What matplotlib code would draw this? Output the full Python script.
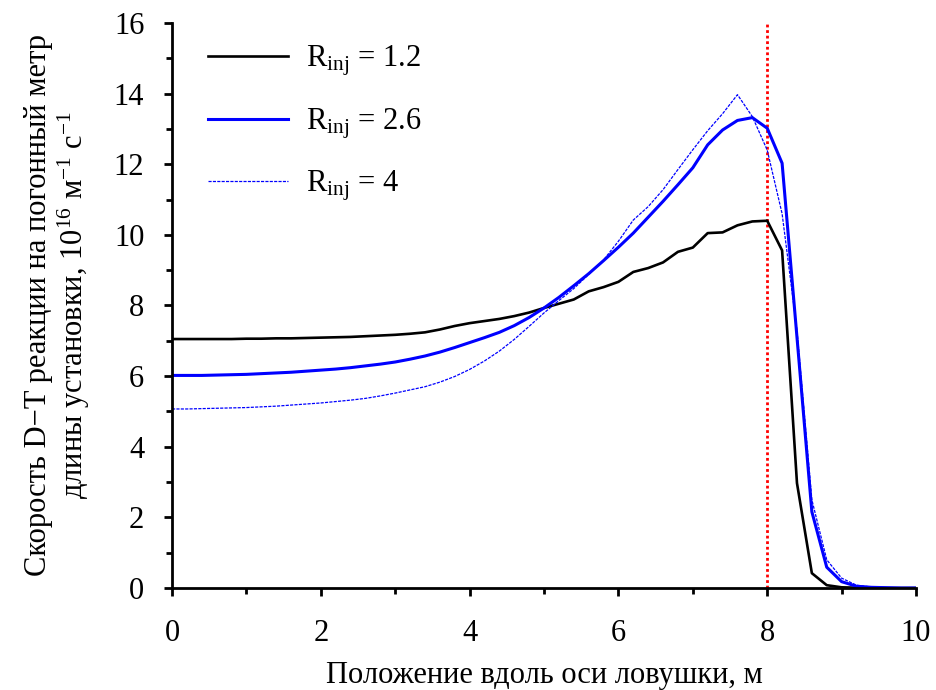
import numpy as np
import matplotlib
matplotlib.use("Agg")
import matplotlib.pyplot as plt
from matplotlib.ticker import MultipleLocator

plt.rcParams['font.family'] = ['Liberation Serif', 'DejaVu Serif']
plt.rcParams['mathtext.fontset'] = 'custom'
plt.rcParams['mathtext.rm'] = 'Liberation Serif'
plt.rcParams['mathtext.it'] = 'Liberation Serif'

# positions along the trap axis, m
x = np.round(np.arange(0, 10.01, 0.2), 1)

# R_inj = 1.2
r12 = [7.05, 7.05, 7.05, 7.05, 7.05, 7.06, 7.06, 7.07, 7.07, 7.08,
       7.09, 7.10, 7.11, 7.13, 7.15, 7.17, 7.20, 7.24, 7.32, 7.42,
       7.50, 7.56, 7.62, 7.70, 7.80, 7.93, 8.05, 8.17, 8.40, 8.52,
       8.67, 8.95, 9.06, 9.22, 9.52, 9.64, 10.05, 10.07, 10.27, 10.38,
       10.40, 9.56, 2.97, 0.42, 0.08, 0.02, 0.01, 0.0, 0.0, 0.0,
       0.0]

# R_inj = 2.6
r26 = [6.02, 6.02, 6.02, 6.03, 6.04, 6.05, 6.07, 6.09, 6.11, 6.14,
       6.17, 6.20, 6.24, 6.29, 6.34, 6.40, 6.48, 6.57, 6.68, 6.81,
       6.95, 7.09, 7.24, 7.43, 7.66, 7.93, 8.23, 8.56, 8.90, 9.27,
       9.65, 10.05, 10.50, 10.95, 11.42, 11.90, 12.55, 12.97, 13.24, 13.32,
       13.02, 12.03, 7.10, 2.16, 0.59, 0.18, 0.05, 0.02, 0.01, 0.0,
       0.0]

# R_inj = 4
r4 = [5.07, 5.07, 5.08, 5.09, 5.10, 5.11, 5.13, 5.15, 5.18, 5.21,
      5.24, 5.28, 5.32, 5.37, 5.44, 5.52, 5.61, 5.70, 5.83, 5.99,
      6.19, 6.43, 6.71, 7.04, 7.41, 7.79, 8.14, 8.48, 8.88, 9.29,
      9.82, 10.42, 10.80, 11.28, 11.85, 12.41, 12.95, 13.43, 13.97, 13.35,
      12.40, 10.60, 7.30, 2.50, 0.80, 0.28, 0.08, 0.03, 0.01, 0.0,
      0.0]

x_mark = 8.0

fig = plt.figure(figsize=(9.37, 6.9), dpi=100)
ax = fig.add_axes([0.1836, 0.1478, 0.7940, 0.8189])

ax.axvline(x_mark, color='red', lw=2, linestyle=(0, (1, 1)), zorder=1)
ax.plot(x, r12, color='black', lw=1.9, label=r'R$_{\mathrm{inj}}$ = 1.2')
ax.plot(x, r26, color='blue', lw=2.2, label=r'R$_{\mathrm{inj}}$ = 2.6')
ax.plot(x, r4, color='blue', lw=0.9, linestyle=(0, (2.5, 1)),
        label=r'R$_{\mathrm{inj}}$ = 4')

ax.set_xlim(0, 10)
ax.set_ylim(0, 16)
ax.xaxis.set_major_locator(MultipleLocator(2))
ax.xaxis.set_minor_locator(MultipleLocator(1))
ax.yaxis.set_major_locator(MultipleLocator(2))
ax.yaxis.set_minor_locator(MultipleLocator(1))

for s in ['top', 'right']:
    ax.spines[s].set_visible(False)
for s in ['left', 'bottom']:
    ax.spines[s].set_linewidth(2)

ax.tick_params(which='major', direction='out', length=6, width=2, labelsize=22)
ax.tick_params(which='minor', direction='out', length=4, width=2)
ax.tick_params(axis='x', which='major', pad=16)
ax.tick_params(axis='y', which='major', pad=14)

ax.set_xlabel('Положение вдоль оси ловушки, м', fontsize=22, labelpad=10)
ax.set_ylabel('Скорость D\u2212T реакции на погонный метр\n'
              'длины установки, 10$^{16}$ м$^{-1}$ с$^{-1}$',
              fontsize=22, labelpad=16, linespacing=1.1)

leg = ax.legend(loc='upper left', bbox_to_anchor=(0.012, 1.012), frameon=False,
                fontsize=22, handlelength=2.6, handletextpad=0.6,
                labelspacing=0.91)

fig.savefig('out.png', dpi=100)
